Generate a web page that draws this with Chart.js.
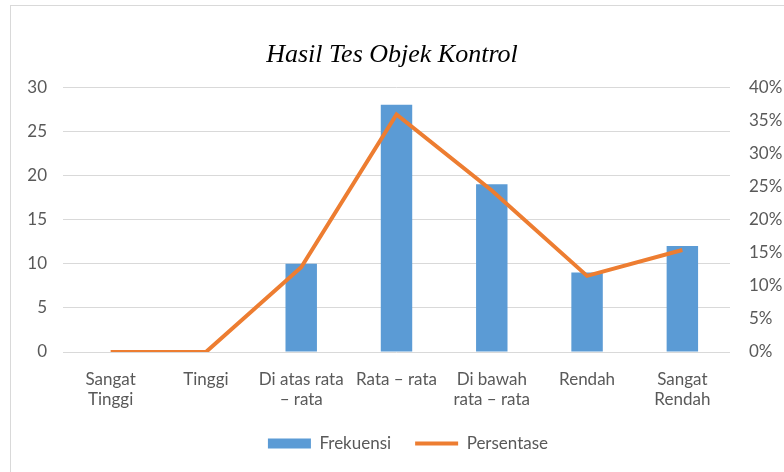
<!DOCTYPE html>
<html>
<head>
<meta charset="utf-8">
<script src="https://cdn.jsdelivr.net/npm/chart.js@4"></script>
<style>
  body { margin: 0; background: #fff; }
  #wrap { position: relative; width: 784px; height: 472px; overflow: hidden; }
  #frame { position: absolute; left: 10px; top: 5px; width: 800px; height: 500px; border: 1px solid #d9d9d9; }
  canvas { position: absolute; left: 0; top: 0; }
</style>
</head>
<body>
<div id="wrap">
  <div id="frame"></div>
  <canvas id="chart" width="784" height="472"></canvas>
</div>
<script>
const categories = [
  ["Sangat", "Tinggi"],
  "Tinggi",
  ["Di atas rata", "– rata"],
  "Rata – rata",
  ["Di bawah", "rata – rata"],
  "Rendah",
  ["Sangat", "Rendah"]
]
const frekuensi = [0, 0, 10, 28, 19, 9, 12]
const persentase = [0, 0, 12.8, 35.9, 24.4, 11.5, 15.4]

const tickFont = { family: "Lato, 'Open Sans', sans-serif", size: 17 }
const tickColor = "#595959"

// the legend in the original sits a bit right of the centre
const legendShift = {
  id: "legendShift",
  afterLayout(chart) {
    const lg = chart.legend
    if (!lg) return
    lg.left += 16
    lg.right += 16
  },
}

new Chart(document.getElementById("chart"), {
  data: {
    labels: categories,
    datasets: [
      {
        type: "line",
        label: "Persentase",
        data: persentase,
        yAxisID: "y1",
        borderColor: "#ED7D31",
        backgroundColor: "#ED7D31",
        borderWidth: 4,
        pointRadius: 0,
        tension: 0,
        pointStyle: "line",
        order: 0,
      },
      {
        type: "bar",
        label: "Frekuensi",
        data: frekuensi,
        yAxisID: "y",
        backgroundColor: "#5B9BD5",
        borderWidth: 0,
        categoryPercentage: 1,
        barPercentage: 0.33,
        pointStyle: "rect",
        order: 1,
      },
    ],
  },
  plugins: [legendShift],
  options: {
    responsive: false,
    animation: false,
    layout: { padding: { left: 0, right: 0, top: 0, bottom: 10 } },
    plugins: {
      title: {
        display: true,
        text: "Hasil Tes Objek Kontrol",
        color: "#000",
        font: { family: "'Liberation Serif', 'DejaVu Serif', serif", size: 26, style: "italic", weight: "normal" },
        padding: { top: 40, bottom: 16 },
      },
      legend: {
        position: "bottom",
        reverse: true,
        labels: {
          usePointStyle: true,
          pointStyleWidth: 43,
          boxHeight: 10,
          padding: 24,
          color: tickColor,
          font: tickFont,
        },
      },
      tooltip: { enabled: false },
    },
    scales: {
      x: {
        grid: { display: false },
        border: { display: false },
        ticks: { color: tickColor, font: tickFont, maxRotation: 0, autoSkip: false, padding: 9 },
        afterFit: (scale) => { scale.height = 59 },
      },
      y: {
        position: "left",
        min: 0,
        max: 30,
        ticks: { stepSize: 5, color: tickColor, font: tickFont, padding: 16 },
        grid: { color: "#d9d9d9", drawTicks: false },
        border: { display: false },
        afterFit: (scale) => { scale.width = 63 },
      },
      y1: {
        position: "right",
        min: 0,
        max: 40,
        ticks: { stepSize: 5, color: tickColor, font: tickFont, padding: 19, callback: (v) => v + "%" },
        grid: { display: false, drawTicks: false },
        border: { display: false },
        afterFit: (scale) => { scale.width = 54 },
      },
    },
  },
})
</script>
</body>
</html>
